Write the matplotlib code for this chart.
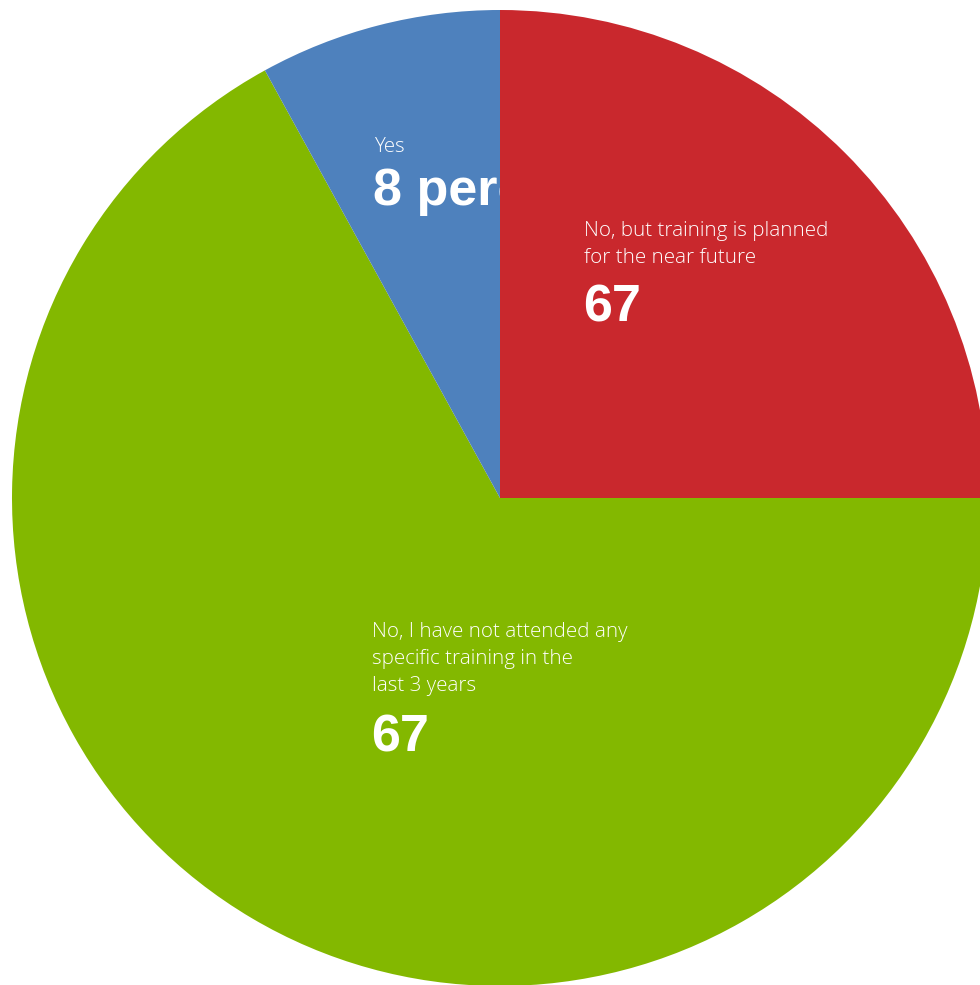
import matplotlib.pyplot as plt

# slices, clockwise from 12 o'clock
shares = [25, 67, 8]
colors = ['#C9282D', '#83B800', '#4E81BD']
labels = ['No, but training is planned\nfor the near future',
          'No, I have not attended any\nspecific training in the\nlast 3 years',
          'Yes']
values = ['67', '67', '8 percent']

W, H = 980, 985

fig = plt.figure(figsize=(9.8, 9.85), dpi=100)
ax = fig.add_axes([0, 0, 1, 1])

wedges, _ = ax.pie(shares, colors=colors, startangle=90, counterclock=False,
                   radius=488, center=(500, H - 498),
                   wedgeprops=dict(linewidth=0))
# the red slice sits on top of the "Yes" value, which gets cut at the edge
wedges[0].set_zorder(5)

ax.set_xlim(0, W)
ax.set_ylim(0, H)
ax.set_aspect('equal')
ax.axis('off')

# label anchors (left x, first-line baseline y, value baseline y) in pixels
pos = [(584, 236, 322), (372, 637, 752), (374, 152, 205)]
for i, (x, y0, yv) in enumerate(pos):
    z = 6 if i == 0 else 3
    for j, line in enumerate(labels[i].split('\n')):
        ax.text(x, H - (y0 + j * 27), line, color='white', fontsize=14.8,
                family=['Open Sans', 'DejaVu Sans'], fontweight='light',
                ha='left', va='baseline', zorder=z)
    ax.text(x - 1, H - yv, values[i], color='white', fontsize=37.5,
            family=['Liberation Sans', 'DejaVu Sans'], fontweight='bold',
            ha='left', va='baseline', zorder=z)

fig.savefig('out.png', dpi=100)
